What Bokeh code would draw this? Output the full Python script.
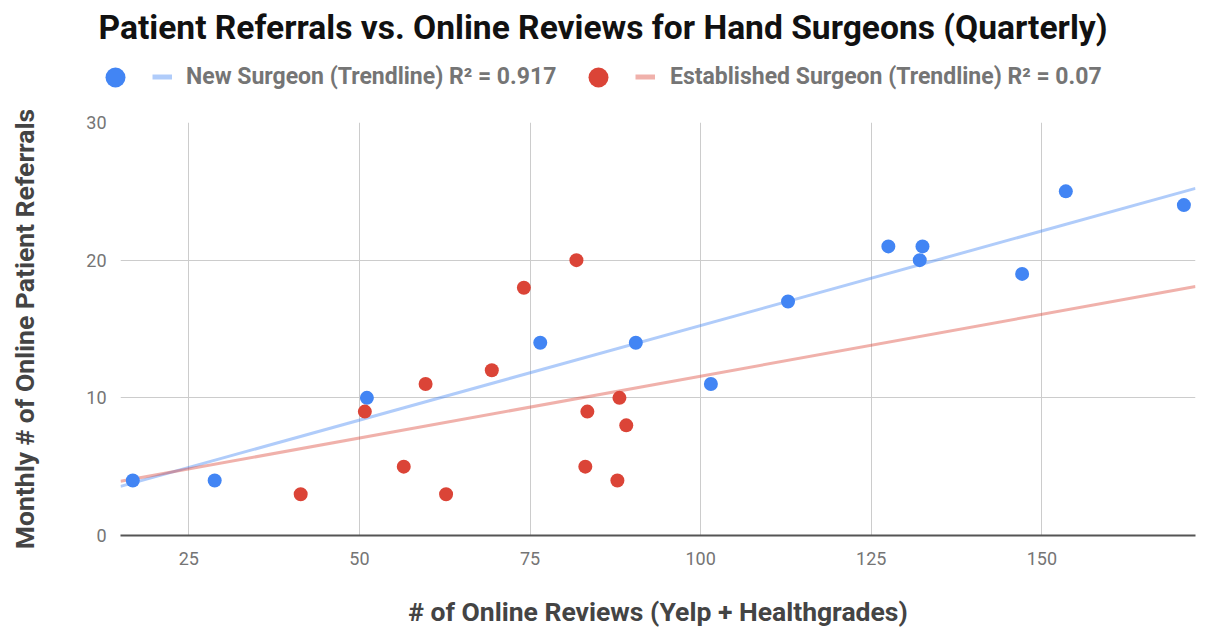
import numpy as np
from bokeh.plotting import figure
from bokeh.layouts import column
from bokeh.models import ColumnDataSource, Legend, LegendItem, FixedTicker, Range1d
from bokeh.core.properties import value
from bokeh.embed import file_html
from bokeh.resources import INLINE

# ---- texts ----
title_text = "Patient Referrals vs. Online Reviews for Hand Surgeons (Quarterly)"
x_title = "# of Online Reviews (Yelp + Healthgrades)"
y_title = "Monthly # of Online Patient Referrals"
new_label = "New Surgeon (Trendline) R² = 0.917"
est_label = "Established Surgeon (Trendline) R² = 0.07"

# ---- data ----
new_reviews = [16.8, 28.8, 51.1, 76.5, 90.5, 101.5, 112.8, 127.5, 132.1, 132.5, 147.1, 153.5, 170.8]
new_referrals = [4, 4, 10, 14, 14, 11, 17, 21, 20, 21, 19, 25, 24]
est_reviews = [41.4, 50.8, 56.5, 59.7, 62.7, 69.4, 74.1, 81.8, 83.1, 83.4, 87.8, 88.1, 89.1]
est_referrals = [3, 9, 5, 11, 3, 12, 18, 20, 5, 9, 4, 10, 8]
x_ticks = [25, 50, 75, 100, 125, 150]
y_ticks = [0, 10, 20, 30]
x_min, x_max = 15, 172.5
y_min, y_max = 0, 30

FONT = "Roboto"
BLUE = "#4285f4"
RED = "#db4437"
W = 1197

# ---- sources ----
tx = [x_min, x_max]
new_fit = np.polyfit(new_reviews, new_referrals, 1)
est_fit = np.polyfit(est_reviews, est_referrals, 1)
new_trend = ColumnDataSource(dict(x=tx, y=list(np.polyval(new_fit, tx))))
est_trend = ColumnDataSource(dict(x=tx, y=list(np.polyval(est_fit, tx))))
new_src = ColumnDataSource(dict(x=new_reviews, y=new_referrals))
est_src = ColumnDataSource(dict(x=est_reviews, y=est_referrals))

# ================= header: title + legend =================
hdr = figure(width=W, height=110, output_backend="svg", toolbar_location=None,
             x_range=Range1d(x_min, x_max), y_range=Range1d(y_min, y_max),
             x_axis_location=None, y_axis_location=None,
             min_border_left=0, min_border_right=0, min_border_top=0, min_border_bottom=0)
hdr.frame_align = False
hdr.outline_line_color = None
hdr.grid.visible = False
hdr.title.text = title_text
hdr.title.align = "left"
hdr.title.offset = 98
hdr.title.standoff = 10
hdr.title.text_font = FONT
hdr.title.text_font_size = "33.6px"
hdr.title.text_font_style = "bold"
hdr.title.text_color = "#111111"

# hidden renderers that only provide the legend swatches
sw_blue_pt = hdr.scatter("x", "y", source=new_src, size=14, fill_color=BLUE, line_color=None, visible=False)
sw_red_pt = hdr.scatter("x", "y", source=est_src, size=14, fill_color=RED, line_color=None, visible=False)
sw_blue_ln = hdr.line("x", "y", source=new_trend, line_color=BLUE, line_alpha=0.42, line_width=5, visible=False)
sw_red_ln = hdr.line("x", "y", source=est_trend, line_color=RED, line_alpha=0.42, line_width=5, visible=False)


def circle_legend(r, vx):
    return Legend(items=[LegendItem(label=value(""), renderers=[r])], location=(vx, 8),
                  glyph_width=50, glyph_height=50, label_width=0, label_height=0,
                  label_standoff=0, padding=0, margin=0, spacing=0,
                  border_line_color=None, background_fill_alpha=0,
                  label_text_font_size="1px", click_policy="none")


def line_legend(r, text, vx, standoff):
    return Legend(items=[LegendItem(label=value(text), renderers=[r])], location=(vx, 20),
                  glyph_width=20, glyph_height=27, label_height=27, label_standoff=standoff,
                  padding=0, margin=0, spacing=0,
                  border_line_color=None, background_fill_alpha=0,
                  label_text_font=FONT, label_text_font_size="23px",
                  label_text_font_style="bold", label_text_color="#757575",
                  click_policy="none")


hdr.add_layout(circle_legend(sw_blue_pt, 90), "center")
hdr.add_layout(line_legend(sw_blue_ln, new_label, 152, 14), "center")
hdr.add_layout(circle_legend(sw_red_pt, 573), "center")
hdr.add_layout(line_legend(sw_red_ln, est_label, 635, 15), "center")

# ================= main chart =================
p = figure(width=W, height=519, output_backend="svg", toolbar_location=None,
           title_location=None,
           x_range=Range1d(x_min, x_max), y_range=Range1d(y_min, y_max),
           min_border_left=120, min_border_right=2, min_border_top=12, min_border_bottom=93)
p.frame_align = False
p.outline_line_color = None
p.background_fill_color = "white"
p.border_fill_color = "white"

# trendlines (least squares fit of each series), then points
p.line("x", "y", source=new_trend, line_color=BLUE, line_alpha=0.42, line_width=3)
p.line("x", "y", source=est_trend, line_color=RED, line_alpha=0.42, line_width=3)
p.scatter("x", "y", source=new_src, size=14, fill_color=BLUE, line_color=None)
p.scatter("x", "y", source=est_src, size=14, fill_color=RED, line_color=None)

# axes and grid
p.xaxis.ticker = FixedTicker(ticks=x_ticks)
p.yaxis.ticker = FixedTicker(ticks=y_ticks)
p.xgrid.ticker = FixedTicker(ticks=x_ticks)
p.ygrid.ticker = FixedTicker(ticks=y_ticks)
p.xgrid.grid_line_color = "#cccccc"
p.ygrid.grid_line_color = "#cccccc"

for ax in (p.xaxis[0], p.yaxis[0]):
    ax.major_tick_line_color = None
    ax.minor_tick_line_color = None
    ax.major_label_text_font = FONT
    ax.major_label_text_font_size = "18px"
    ax.major_label_text_color = "#757575"
    ax.axis_label_text_font = FONT
    ax.axis_label_text_font_size = "26.5px"
    ax.axis_label_text_font_style = "bold"
    ax.axis_label_text_color = "#444444"

p.xaxis.axis_label = x_title
p.yaxis.axis_label = y_title
p.xaxis.axis_line_color = "#555555"
p.xaxis.axis_line_width = 2
p.yaxis.axis_line_color = None
p.xaxis.major_label_standoff = 10
p.yaxis.major_label_standoff = 8
p.xaxis.axis_label_standoff = 28
p.yaxis.axis_label_standoff = 43

layout = column(hdr, p, spacing=0)
open("out.html", "w").write(file_html(layout, INLINE))
